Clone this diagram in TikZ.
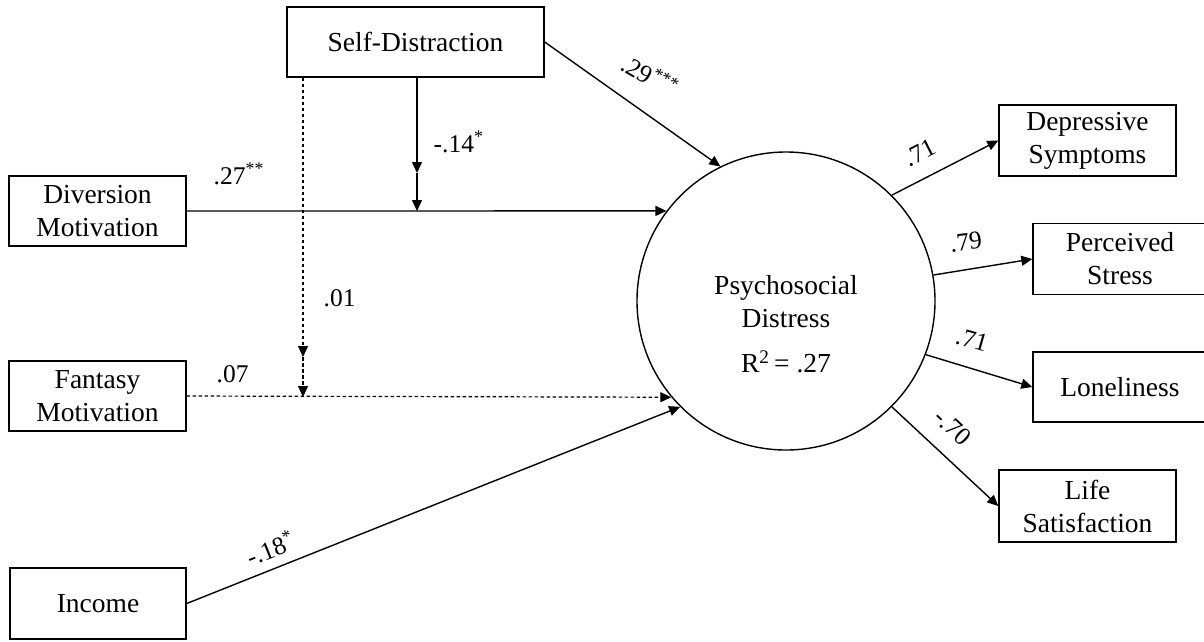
\documentclass[tikz,border=0pt]{standalone}
\usepackage{fontspec}
\setmainfont{Liberation Serif}
\usetikzlibrary{arrows.meta,calc}
\newcommand{\nodefs}{\fontsize{27.5}{33}\selectfont}
\newcommand{\labfs}{\fontsize{25.5}{30}\selectfont}
\begin{document}
\begin{tikzpicture}[x=1pt,y=-1pt,line width=1.4pt,
  arr/.style={-{Triangle[length=11pt,width=10pt]}},
  box/.style={draw,rectangle,inner sep=0pt,align=center,font=\nodefs},
  lab/.style={font=\labfs,inner sep=0pt},
  dsh/.style={dash pattern=on 3.5pt off 2.5pt,line width=1.2pt}]
\useasboundingbox (0,0) rectangle (1204,641);
\fill[white] (0,0) rectangle (1204,641);
\clip (0,0) rectangle (1204,641);
% nodes
\node[box,minimum width=257,minimum height=70] (sd) at (415.5,42) {Self-Distraction};
\node[box,minimum width=177,minimum height=70] (div) at (97.5,211) {Diversion\\Motivation};
\node[box,minimum width=177,minimum height=70] (fan) at (97.5,396) {Fantasy\\Motivation};
\node[box,minimum width=176,minimum height=71] (inc) at (98,603.5) {Income};
\node[draw,circle,minimum size=298,inner sep=0pt] (psd) at (786,301) {};
\node[align=center,font=\nodefs,inner sep=0pt] (psdtxt) at (786,324) {Psychosocial\\Distress\\[12pt]R\textsuperscript{2}\,= .27};
\node[box,minimum width=177,minimum height=71] (dep) at (1087.5,140.5) {Depressive\\Symptoms};
\node[box,minimum width=174,minimum height=71] (per) at (1120,259) {Perceived\\Stress};
\node[box,minimum width=174,minimum height=70] (lon) at (1120,387) {Loneliness};
\node[box,minimum width=177,minimum height=72] (lif) at (1087.5,506) {Life\\Satisfaction};
% helper coordinates for moderation arrows
\coordinate (a1) at (417,173);
\coordinate (m1) at (417,211);
\coordinate (a2) at (303,357);
\coordinate (m2) at (303,397);
% paths
\draw[arr] (sd.east) -- (psd.116);
\draw[arr] (div.east) -- (psd.143);
\draw[arr,dsh] (fan.east) -- (psd.220);
\draw[arr] (inc.east) -- (psd.225);
\draw[arr] (sd.south -| a1) -- (a1);
\draw[arr] (a1) -- (m1);
\draw[arr,dsh] (sd.south -| a2) -- (a2);
\draw[arr,dsh] (a2) -- (m2);
\draw[arr] (psd.45) -- (dep.west);
\draw[arr] (psd.10) -- (per.west);
\draw[arr] (psd.-21) -- (lon.west);
\draw[arr] (psd.-45) -- (lif.west);
% labels
\node[lab,anchor=base west] (l27) at (213,184) {.27\textsuperscript{**}};
\node[lab,anchor=base west] (l14) at (433,152) {-.14\textsuperscript{*}};
\node[lab,anchor=base west] (l01) at (323,306) {.01};
\node[lab,anchor=base west] (l07) at (216,382) {.07};
\node[lab,rotate=-30] (l29) at (650,75) {.29\textsuperscript{***}};
\node[lab,rotate=22] (l18) at (270,548) {-.18\textsuperscript{*}};
\node[lab,rotate=27] (l71a) at (920,153) {.71};
\node[lab,rotate=7] (l79) at (966,242) {.79};
\node[lab,rotate=-16] (l71b) at (972,340) {.71};
\node[lab,rotate=-43] (l70) at (953,427) {-.70};
\end{tikzpicture}
\end{document}
